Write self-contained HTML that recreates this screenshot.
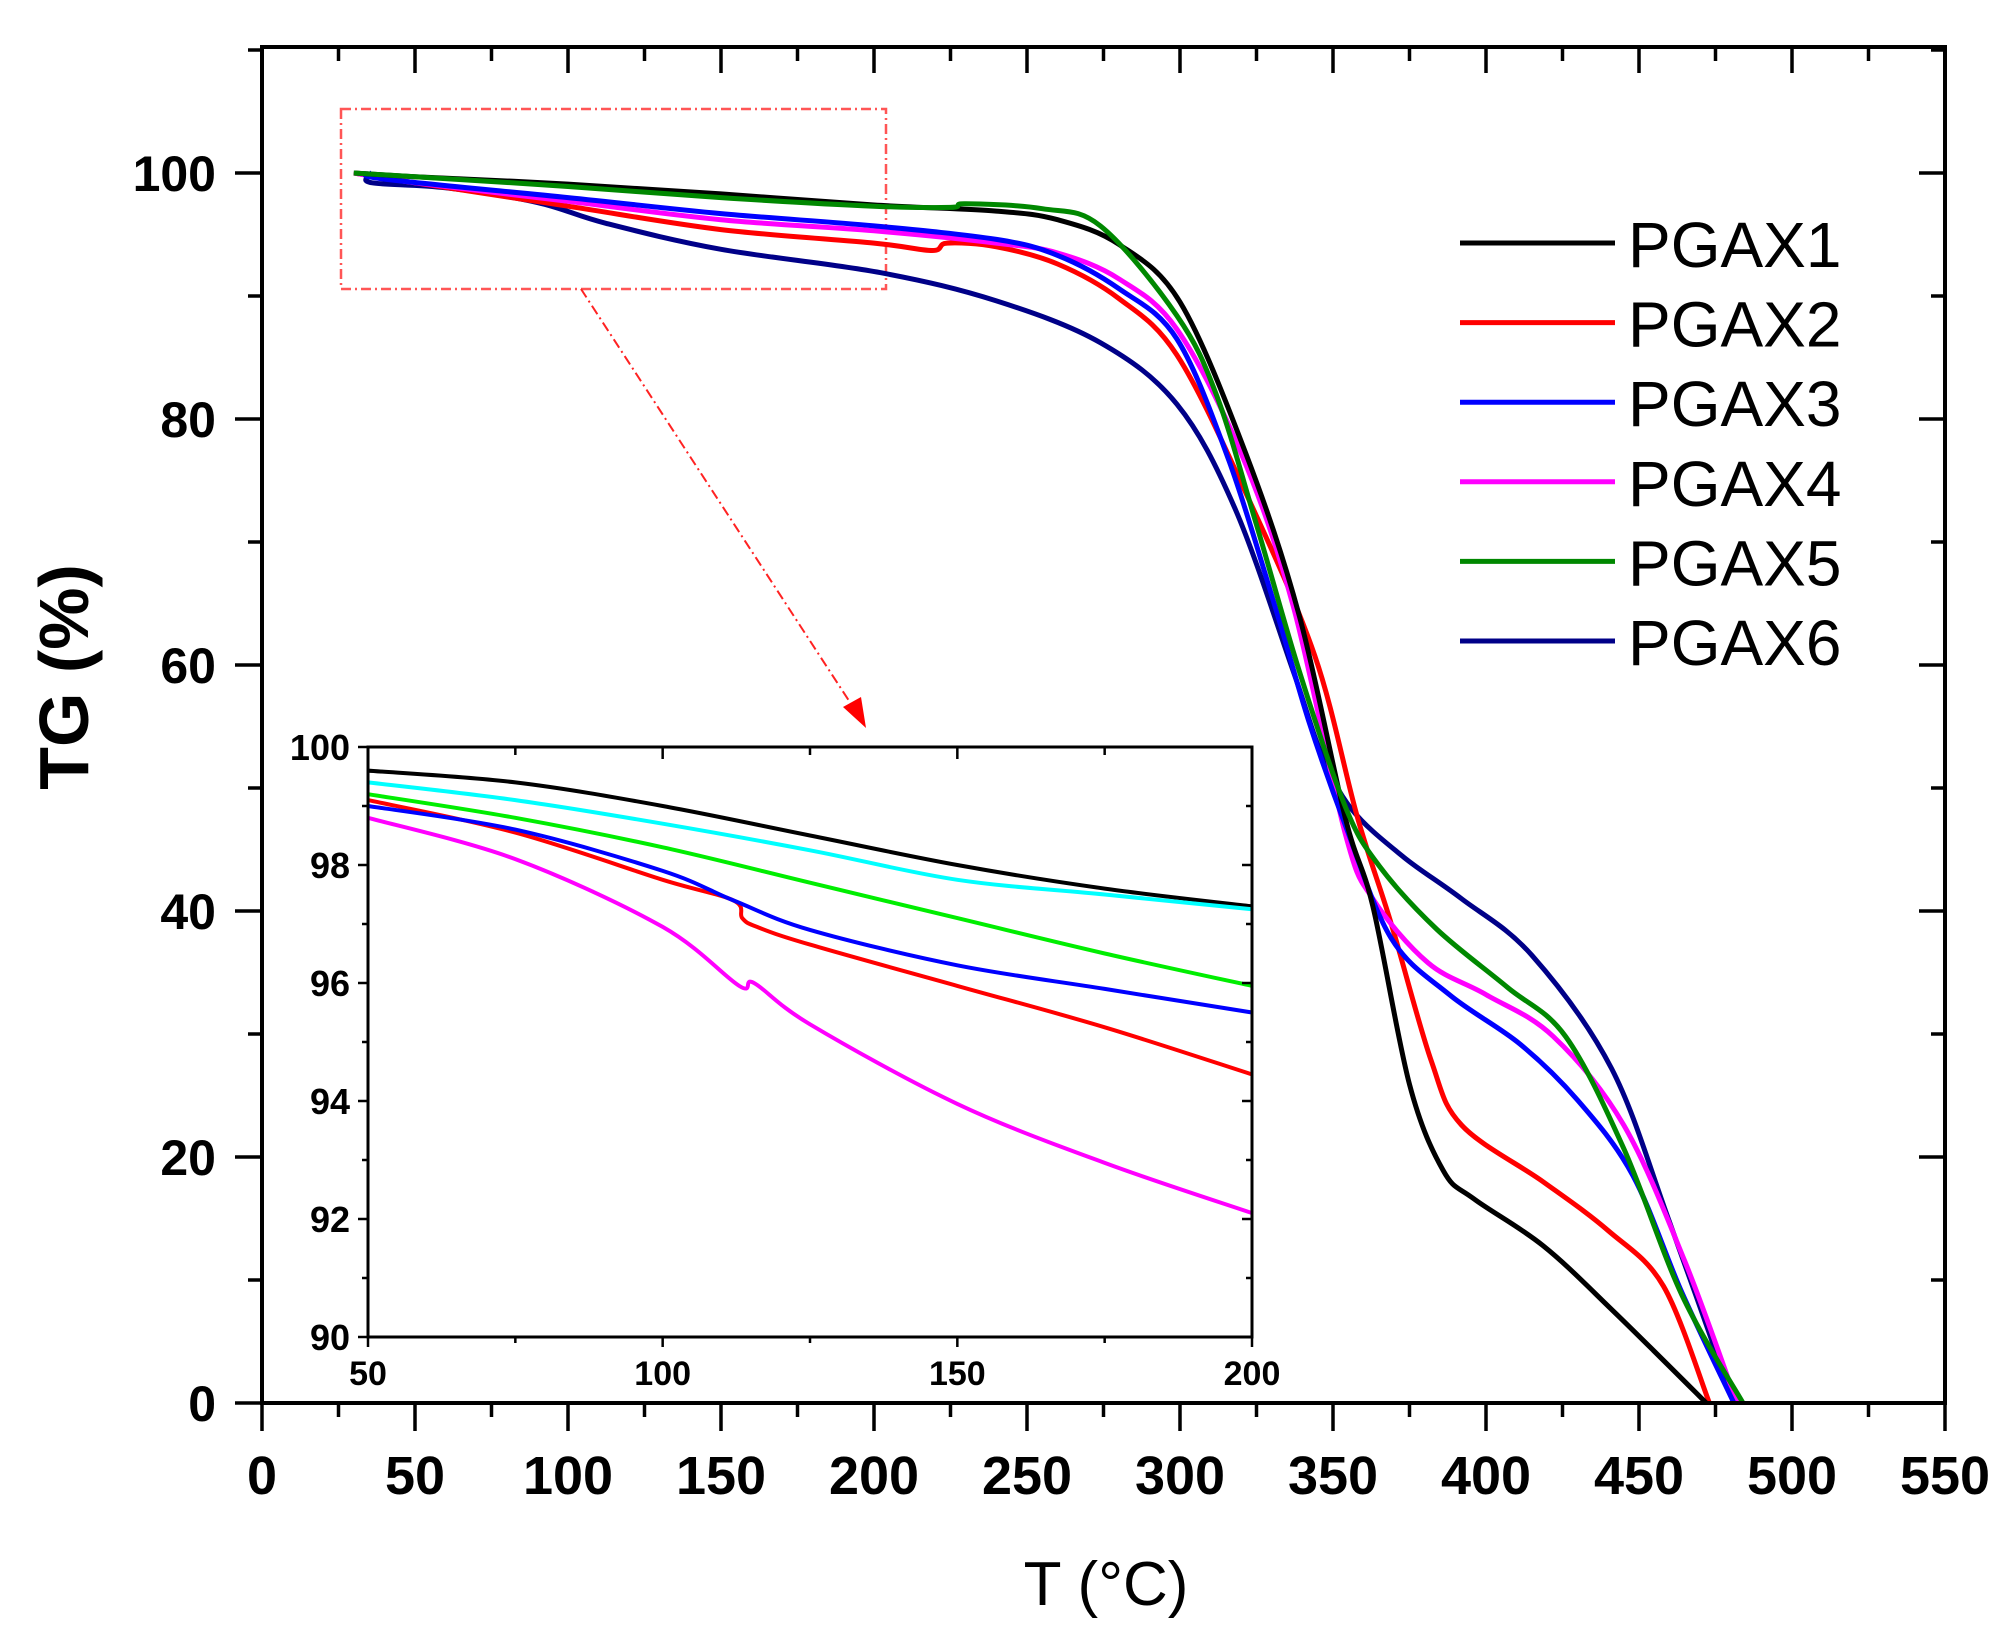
<!DOCTYPE html>
<html><head><meta charset="utf-8"><style>
html,body{margin:0;padding:0;background:#fff;}
svg{display:block;}
text{font-family:"Liberation Sans",Arial,sans-serif;}
</style></head><body>
<svg id="s" width="2003" height="1639" viewBox="0 0 2003 1639" xmlns="http://www.w3.org/2000/svg">
<rect width="2003" height="1639" fill="#fff"/>
<g id="g"></g>
<text x="1106" y="1605" font-size="62" text-anchor="middle">T (°C)</text>
<text transform="translate(88,677) rotate(-90)" font-size="70" font-weight="bold" text-anchor="middle">TG (%)</text>
</svg>
<script>
const NS="http://www.w3.org/2000/svg",g=document.getElementById('g');
function el(t,a,txt){const e=document.createElementNS(NS,t);for(const k in a)e.setAttribute(k,a[k]);if(txt!==undefined)e.textContent=txt;g.appendChild(e);return e;}
const X0=262,XS=(1945-262)/550,Y0=1403,YS=12.3;
const mx=t=>X0+t*XS,my=v=>Y0-v*YS;
const ix=t=>368+(t-50)*(1252-368)/150,iy=v=>1337-(v-90)*59;
function path(pts,fx,fy){
 const P=pts.map(p=>[fx(p[0]),fy(p[1])]);let d="M"+P[0][0].toFixed(1)+","+P[0][1].toFixed(1);
 for(let i=0;i<P.length-1;i++){const p0=P[i-1]||P[i],p1=P[i],p2=P[i+1],p3=P[i+2]||P[i+1];
  const c1=[p1[0]+(p2[0]-p0[0])/6,p1[1]+(p2[1]-p0[1])/6],c2=[p2[0]-(p3[0]-p1[0])/6,p2[1]-(p3[1]-p1[1])/6];
  d+=" C"+c1.map(v=>v.toFixed(1))+" "+c2.map(v=>v.toFixed(1))+" "+p2.map(v=>v.toFixed(1));}
 return d;}
el('rect',{x:341,y:109,width:545,height:180,fill:'none',stroke:'#f55','stroke-width':2.5,'stroke-dasharray':'10,4,2,4'});
el('line',{x1:581,y1:289,x2:855,y2:710,stroke:'#f22','stroke-width':2,'stroke-dasharray':'10,4,2,4'});
el('polygon',{points:'866,728 843,707 861,697',fill:'#f00'});
const S={
black:['#000',[[30,100],[50,99.7],[100,99.1],[150,98.3],[200,97.4],[240,96.9],[260,96.2],[280,94.2],[300,89.5],[321.5,77.2],[339,64],[354,47.6],[363,40.4],[375,25.9],[386,18.9],[396,16.6],[418.6,12.8],[441.5,7.5],[472,0]]],
red:['#f00',[[30,100],[50,99.2],[100,97.3],[150,95.4],[200,94.3],[219,93.7],[224,94.3],[240,94],[260,92.6],[280,89.8],[299,85.2],[321.5,74],[344,60.8],[358,47.6],[369,39],[382,27.9],[392,22.6],[418.6,18],[440,14],[458,9.5],[473,0]]],
blue:['#00f',[[35,100],[40,99.5],[100,98],[150,96.7],[200,95.7],[240,94.6],[260,93.3],[280,90.6],[299,86.5],[316,76.6],[331,64.8],[342,55.5],[354,47],[369,37.8],[388,33.2],[411,29.2],[430,24.6],[448,18.5],[464,9],[481,0]]],
mag:['#f0f',[[30,100],[50,99.2],[100,97.7],[150,96.2],[200,95.3],[240,94.3],[260,93.5],[280,91.4],[299,87.3],[320,77.2],[337,64.8],[354,46.3],[363,41],[381,35.8],[400,33.2],[422,29.8],[445,22.6],[465,11.5],[482,0]]],
green:['#080',[[30,100],[50,99.7],[100,98.9],[150,98],[200,97.3],[225,97.2],[230,97.5],[255,97.1],[274,95.7],[299,88.4],[312,81.9],[325,71.4],[339,59.5],[354,48.5],[365,43.7],[384,38.5],[407,33.8],[426,29.8],[445,20.7],[464,8.8],[484,0]]],
navy:['#008',[[35,99.8],[36,99.2],[60,98.8],[90,97.6],[112.5,95.9],[150,93.8],[202,91.9],[240,89.6],[274,86.2],[299,81.2],[318,72.7],[337,59.5],[346,52.9],[356,48.3],[373,44.4],[392,41],[415,36.4],[441,27.2],[460,14.7],[481,0]]]
};
for(const k of ['navy','red','mag','blue','black','green']){const s=S[k];el('path',{d:path(s[1],mx,my),fill:'none',stroke:s[0],'stroke-width':5,'stroke-linejoin':'round'});}
el('rect',{x:X0,y:47,width:1945-X0,height:Y0-47,fill:'none',stroke:'#000','stroke-width':4});
for(let t=0;t<=550;t+=25){const x=mx(t),M=t%50==0;
 el('line',{x1:x,y1:Y0,x2:x,y2:Y0+(M?28:14),stroke:'#000','stroke-width':3.5});
 el('line',{x1:x,y1:47,x2:x,y2:47+(M?26:14),stroke:'#000','stroke-width':3.5});
 if(M)el('text',{x:x,y:1494,'font-size':54,'font-weight':'bold','text-anchor':'middle'},t);}
for(let v=0;v<=110;v+=10){const y=my(v),M=v%20==0;if(y<47)continue;
 el('line',{x1:X0,y1:y,x2:X0-(M?27:14),y2:y,stroke:'#000','stroke-width':3.5});
 el('line',{x1:1945,y1:y,x2:1945-(M?26:14),y2:y,stroke:'#000','stroke-width':3.5});
 if(M)el('text',{x:216,y:y+18,'font-size':50,'font-weight':'bold','text-anchor':'end'},v);}
const L=[['PGAX1','#000'],['PGAX2','#f00'],['PGAX3','#00f'],['PGAX4','#f0f'],['PGAX5','#080'],['PGAX6','#008']];
L.forEach((l,i)=>{const y=243+i*79.6;el('line',{x1:1460,y1:y,x2:1615,y2:y,stroke:l[1],'stroke-width':5});
 el('text',{x:1628,y:y+24,'font-size':64},l[0]);});
el('rect',{x:368,y:747,width:884,height:590,fill:'#fff'});
const I=[
['#000',[[50,99.6],[75,99.4],[100,99.0],[125,98.5],[150,98.0],[175,97.6],[200,97.3]]],
['#0ff',[[50,99.4],[75,99.1],[100,98.7],[125,98.25],[150,97.75],[175,97.5],[200,97.25]]],
['#0e0',[[50,99.2],[75,98.8],[100,98.3],[125,97.7],[150,97.1],[175,96.5],[200,95.95]]],
['#f00',[[50,99.1],[75,98.55],[100,97.75],[112,97.4],[113.5,97.1],[116,96.95],[125,96.65],[150,95.95],[175,95.25],[200,94.45]]],
['#00f',[[50,99.0],[75,98.6],[100,97.9],[112,97.4],[125,96.9],[150,96.3],[175,95.9],[200,95.5]]],
['#f0f',[[50,98.8],[75,98.1],[100,96.95],[113,95.95],[115.5,96.0],[125,95.3],[150,93.95],[175,92.95],[200,92.1]]]];
for(const s of I)el('path',{d:path(s[1],ix,iy),fill:'none',stroke:s[0],'stroke-width':4,'stroke-linejoin':'round'});
el('rect',{x:368,y:747,width:884,height:590,fill:'none',stroke:'#000','stroke-width':3});
for(let t=50;t<=200;t+=25){const x=ix(t),M=t%50==0;
 el('line',{x1:x,y1:1337,x2:x,y2:1337+(M?10:6),stroke:'#000','stroke-width':2.5});
 el('line',{x1:x,y1:747,x2:x,y2:747+(M?12:8),stroke:'#000','stroke-width':2.5});
 if(M)el('text',{x:x,y:1385,'font-size':34,'font-weight':'bold','text-anchor':'middle'},t);}
for(let v=90;v<=100;v+=1){const y=iy(v),M=v%2==0;
 el('line',{x1:368,y1:y,x2:368-(M?10:6),y2:y,stroke:'#000','stroke-width':2.5});
 el('line',{x1:1252,y1:y,x2:1252-(M?10:6),y2:y,stroke:'#000','stroke-width':2.5});
 if(M)el('text',{x:350,y:y+13,'font-size':36,'font-weight':'bold','text-anchor':'end'},v);}
</script>
</body></html>
